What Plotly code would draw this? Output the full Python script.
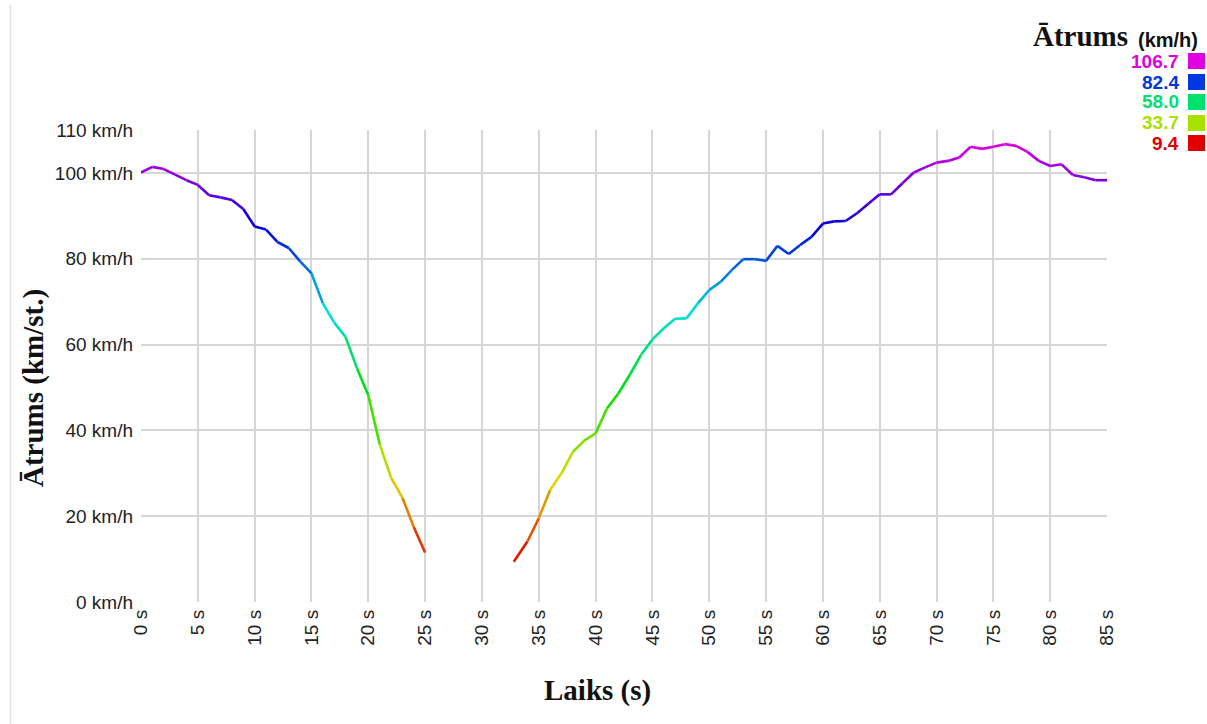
import colorsys
import plotly.graph_objects as go

# ---- data ----
time_left = [0, 1, 2, 3, 4, 5, 6, 7, 8, 9, 10, 11, 12, 13, 14, 15, 16, 17, 18, 19, 20, 21, 22, 23, 24, 25]
speed_left = [100.1, 101.4, 100.9, 99.6, 98.3, 97.2, 94.8, 94.3, 93.7, 91.6, 87.5, 86.8, 83.9, 82.5, 79.4,
              76.6, 69.6, 65.1, 61.8, 54.5, 48.2, 36.8, 29.0, 24.3, 17.5, 11.5]

time_right = [32.8, 34, 35, 36, 37, 38, 39, 40, 41, 42, 43, 44, 45, 46, 47, 48, 49, 50, 51, 52, 53, 54, 55,
              56, 57, 58, 59, 60, 61, 62, 63, 64, 65, 66, 67, 68, 69, 70, 71, 72, 73, 74, 75, 76, 77, 78,
              79, 80, 81, 82, 83, 84, 85]
speed_right = [9.4, 14.1, 19.5, 26.1, 30.0, 35.0, 37.6, 39.3, 45.1, 48.6, 52.9, 57.6, 61.2, 63.8, 66.0, 66.1,
               69.6, 72.7, 74.6, 77.4, 79.9, 79.9, 79.5, 83.0, 81.1, 83.2, 85.1, 88.2, 88.7, 88.8, 90.6, 92.8,
               95.0, 95.0, 97.6, 100.1, 101.3, 102.4, 102.8, 103.6, 106.1, 105.6, 106.1, 106.7, 106.3, 104.9,
               102.8, 101.6, 102.0, 99.5, 99.0, 98.3, 98.3]

legend_values = [106.7, 82.4, 58.0, 33.7, 9.4]
y_tick_vals = [0, 20, 40, 60, 80, 100, 110]
y_tick_text = ["0 km/h", "20 km/h", "40 km/h", "60 km/h", "80 km/h", "100 km/h", "110 km/h"]
x_tick_vals = list(range(0, 90, 5))
x_tick_text = [f"{v} s" for v in x_tick_vals]

VMIN, VMAX = min(legend_values), max(legend_values)


def speed_color(v):
    f = (v - VMIN) / (VMAX - VMIN)
    f = max(0.0, min(1.0, f))
    r, g, b = colorsys.hsv_to_rgb(f * 300 / 360, 1.0, 0.88)
    return f"rgb({int(r*255)},{int(g*255)},{int(b*255)})"


fig = go.Figure()
for ts, vs in ((time_left, speed_left), (time_right, speed_right)):
    for i in range(len(ts) - 1):
        fig.add_trace(go.Scatter(
            x=[ts[i], ts[i + 1]], y=[vs[i], vs[i + 1]], mode="lines",
            line=dict(color=speed_color((vs[i] + vs[i + 1]) / 2), width=2.6),
            showlegend=False, hoverinfo="skip"))

# page pixel -> paper helpers (plot area on the page: x 141..1107, y 130..602)
def px(x):
    return (x - 141) / 966


def py(y):
    return (602 - y) / 472


tick_font = dict(family="Liberation Sans, Arial", size=19, color="#222")
fig.update_layout(
    width=1207, height=724,
    margin=dict(l=141, r=100, t=130, b=122),
    paper_bgcolor="white", plot_bgcolor="white",
    xaxis=dict(range=[0, 85], tickvals=x_tick_vals, ticktext=x_tick_text, tickangle=-90,
               showgrid=True, gridcolor="#d6d6d6", gridwidth=1.5, zeroline=False,
               tickfont=tick_font, ticks="", ticklabelstandoff=3, fixedrange=True),
    yaxis=dict(range=[0, 110], tickvals=y_tick_vals, ticktext=y_tick_text,
               showgrid=True, gridcolor="#d6d6d6", gridwidth=1.5, zeroline=False,
               tickfont=tick_font, ticks="", ticklabelstandoff=7, fixedrange=True),
)

serif = "Liberation Serif, Times New Roman, serif"
annotations = [
    dict(text="<b>Laiks (s)</b>", x=px(597), y=py(690), xref="paper", yref="paper",
         showarrow=False, font=dict(family=serif, size=29, color="#111"), xanchor="center", yanchor="middle"),
    dict(text="<b>Ātrums (km/st.)</b>", x=px(33), y=py(388), xref="paper", yref="paper",
         showarrow=False, textangle=-90, font=dict(family=serif, size=29, color="#111"),
         xanchor="center", yanchor="middle"),
    dict(text="<b>Ātrums</b>", x=px(1130), y=py(36), xref="paper", yref="paper",
         showarrow=False, font=dict(family=serif, size=29, color="#111"), xanchor="right", yanchor="middle"),
    dict(text="<b>(km/h)</b>", x=px(1136), y=py(40), xref="paper", yref="paper",
         showarrow=False, font=dict(family="Liberation Sans, Arial", size=20, color="#111"),
         xanchor="left", yanchor="middle"),
]
shapes = [
    dict(type="line", xref="paper", yref="paper", x0=px(10.5), x1=px(10.5), y0=py(724), y1=py(5),
         line=dict(color="#e0e0e0", width=1.5)),
]
row_y = [61, 82, 102, 123, 143]
for v, ry in zip(legend_values, row_y):
    c = speed_color(v)
    annotations.append(dict(text=f"<b>{v:.1f}</b>", x=px(1181), y=py(ry), xref="paper", yref="paper",
                            showarrow=False, font=dict(family="Liberation Sans, Arial", size=19, color=c),
                            xanchor="right", yanchor="middle"))
    shapes.append(dict(type="rect", xref="paper", yref="paper", x0=px(1188), x1=px(1205),
                       y0=py(ry + 8), y1=py(ry - 8), fillcolor=c, line=dict(width=0)))

fig.update_layout(annotations=annotations, shapes=shapes)
fig.write_html(
    "out.html",
    config={"displayModeBar": False},
    post_script="document.body.style.margin='0';document.body.style.overflow='hidden';",
)
